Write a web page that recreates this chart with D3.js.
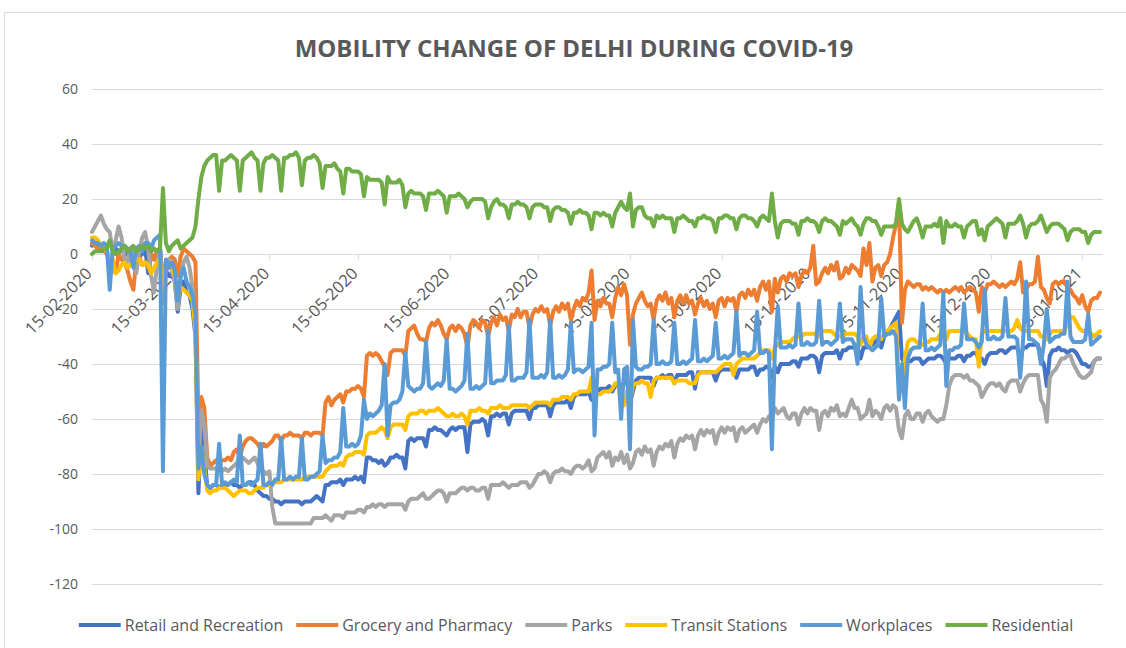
<!DOCTYPE html>
<html>
<head>
<meta charset="utf-8">
<script src="https://cdn.jsdelivr.net/npm/d3@7"></script>
<style>
  body { margin: 0; background: #fff; }
  text { font-family: "Open Sans", sans-serif; fill: #595959; }
</style>
</head>
<body>
<svg id="chart" width="1126" height="648"></svg>
<script>
// daily values from 15-02-2020, one row = 4 weeks (Sat..Fri)
const firstDay = "15-02-2020";

const retail = [
  3,4,2,2,1,1,-3, 0,2,1,1,2,0,-2, -4,0,-1,0,2,-7,0, -2,1,2,-10,-6,-8,-7,
  -10,-21,-12,-10,-14,-15,-20, -30,-87,-62,-72,-85,-85,-84, -84,-85,-84,-84,-84,-83,-84, -84,-85,-84,-84,-83,-83,-84,
  -86,-87,-88,-88,-89,-89,-90, -90,-91,-90,-90,-90,-90,-90, -90,-91,-90,-90,-90,-89,-88, -89,-90,-84,-84,-83,-83,-83,
  -82,-84,-82,-82,-82,-81,-82, -81,-83,-74,-74,-75,-75,-76, -75,-77,-76,-74,-74,-73,-74, -74,-78,-68,-67,-68,-67,-67,
  -67,-70,-64,-64,-63,-64,-64, -65,-66,-64,-63,-64,-63,-63, -63,-72,-62,-61,-61,-61,-60, -61,-66,-59,-59,-58,-59,-58,
  -58,-62,-58,-57,-57,-57,-57, -57,-60,-56,-56,-55,-55,-55, -55,-59,-55,-54,-54,-54,-54, -53,-56,-52,-51,-51,-51,-51,
  -50,-53,-52,-50,-49,-49,-49, -48,-50,-48,-47,-48,-47,-46, -54,-50,-46,-45,-45,-45,-45, -45,-48,-45,-45,-44,-45,-44,
  -44,-47,-44,-44,-44,-44,-43, -43,-49,-43,-43,-43,-43,-43, -43,-46,-43,-42,-42,-42,-42, -42,-45,-42,-42,-42,-42,-41,
  -41,-44,-42,-42,-41,-41,-45, -41,-43,-40,-40,-40,-40,-39, -39,-41,-38,-38,-38,-37,-37, -38,-43,-37,-36,-36,-36,-36,
  -35,-38,-35,-35,-34,-34,-34, -34,-38,-34,-34,-33,-33,-32, -31,-34,-30,-29,-27,-25,-23, -21,-38,-40,-39,-39,-38,-38,
  -38,-40,-39,-38,-38,-38,-37, -37,-38,-40,-38,-38,-38,-37, -37,-39,-37,-37,-36,-36,-38, -38,-40,-37,-36,-36,-36,-35,
  -35,-36,-35,-34,-34,-34,-38, -34,-34,-33,-33,-33,-33,-38, -40,-48,-37,-35,-35,-34,-35, -35,-36,-35,-35,-36,-38,-40,
  -40,-41,-41,-39,-38,-38
];

const grocery = [
  4,3,2,1,2,0,-3, -2,-7,0,-2,-3,-6,-10, -13,-2,-1,-4,-3,-5,0, -2,1,2,-14,-3,-2,-1,
  -2,-8,-1,2,1,0,-1, -3,-60,-52,-56,-74,-77,-76, -75,-76,-75,-75,-74,-75,-72, -71,-74,-70,-68,-67,-67,-68,
  -69,-71,-69,-70,-69,-68,-66, -66,-68,-66,-66,-65,-66,-66, -66,-67,-65,-65,-66,-65,-65, -65,-66,-54,-52,-55,-53,-52,
  -51,-54,-50,-50,-49,-49,-48, -49,-52,-37,-36,-37,-36,-37, -39,-41,-44,-36,-35,-35,-35, -35,-37,-28,-27,-26,-29,-31,
  -31,-32,-27,-25,-26,-24,-26, -29,-31,-27,-26,-28,-26,-27, -29,-34,-26,-24,-25,-27,-24, -25,-30,-25,-23,-26,-22,-24,
  -23,-28,-22,-23,-20,-23,-21, -21,-27,-22,-20,-21,-19,-21, -20,-26,-21,-19,-21,-18,-20, -18,-24,-20,-17,-19,-16,-17,
  -14,-6,-24,-17,-19,-16,-18, -18,-23,-16,-12,-15,-11,-15, -33,-22,-18,-16,-14,-17,-19, -18,-24,-17,-15,-17,-14,-18,
  -16,-23,-17,-15,-18,-15,-18, -17,-22,-18,-16,-19,-17,-20, -18,-23,-17,-16,-19,-16,-17, -16,-21,-15,-14,-16,-13,-15,
  -13,-17,-12,-10,-13,-10,-21, -9,-14,-9,-8,-10,-7,-8, -7,-12,-8,-6,-7,-5,3, -11,-10,-7,-5,-7,-4,-6,
  -3,-9,-8,-5,-7,-4,-5, -6,-8,2,-4,4,-10,-5, -4,-8,-4,-3,0,6,11, 19,-25,-13,-10,-11,-12,-11,
  -11,-13,-12,-13,-12,-13,-14, -13,-14,-13,-14,-13,-12,-13, -12,-14,-13,-12,-13,-14,-21, -12,-14,-11,-11,-10,-11,-12,
  -11,-12,-11,-10,-11,-9,-3, -14,-13,-11,-11,-10,-1,-12, -13,-16,-18,-11,-10,-11,-10, -10,-12,-13,-15,-16,-18,-15,
  -19,-21,-17,-16,-16,-14
];

const parks = [
  8,10,12,14,11,9,8, 1,5,10,6,-2,-3,2, 2,-7,1,6,8,2,-8, -14,-4,2,-18,-5,-2,-6,
  -10,-20,-8,-3,-1,-5,-12, -25,-76,-57,-62,-77,-78,-78, -78,-78,-79,-78,-79,-78,-77, -76,-74,-74,-75,-76,-75,-74,
  -76,-79,-79,-80,-79,-92,-98, -98,-98,-98,-98,-98,-98,-98, -98,-98,-98,-98,-98,-96,-96, -96,-96,-95,-96,-97,-95,-95,
  -95,-96,-94,-94,-94,-94,-93, -93,-94,-92,-92,-91,-92,-91, -91,-92,-91,-91,-91,-91,-91, -91,-93,-90,-89,-89,-89,-88,
  -87,-89,-89,-88,-87,-86,-86, -87,-90,-87,-87,-87,-86,-85, -85,-86,-85,-85,-86,-86,-85, -85,-89,-84,-84,-84,-84,-83,
  -84,-85,-84,-84,-84,-83,-83, -83,-85,-84,-82,-80,-80,-79, -80,-83,-80,-79,-79,-78,-79, -79,-80,-78,-77,-77,-78,-77,
  -75,-79,-78,-74,-73,-72,-74, -72,-77,-74,-75,-72,-76,-73, -78,-76,-72,-71,-73,-70,-72, -71,-77,-72,-70,-71,-69,-70,
  -68,-74,-69,-67,-68,-66,-67, -66,-71,-66,-64,-66,-64,-65, -64,-69,-65,-63,-65,-63,-64, -63,-68,-64,-63,-65,-64,-63,
  -62,-65,-62,-60,-61,-59,-59, -56,-58,-57,-56,-59,-60,-58, -58,-62,-58,-56,-58,-56,-57, -57,-64,-58,-57,-59,-56,-57,
  -55,-59,-58,-59,-56,-53,-56, -56,-60,-59,-58,-53,-59,-57, -58,-60,-56,-55,-57,-55,-56, -64,-67,-59,-57,-60,-60,-58,
  -58,-61,-58,-57,-59,-60,-61, -60,-60,-55,-48,-45,-44,-44, -44,-45,-44,-46,-46,-47,-48, -52,-50,-48,-47,-47,-48,-47,
  -49,-50,-47,-46,-46,-46,-50, -47,-45,-44,-44,-44,-44,-53, -55,-61,-45,-43,-42,-40,-38, -38,-37,-37,-40,-42,-44,-45,
  -45,-44,-43,-39,-38,-38
];

const transit = [
  6,6,5,3,2,1,-1, -2,-7,-6,-4,-3,-5,-4, -3,-2,-2,-4,-3,-4,-7, -5,-3,-2,-12,-4,-5,-5,
  -8,-16,-12,-13,-14,-15,-17, -28,-82,-70,-78,-86,-87,-86, -86,-85,-85,-85,-86,-87,-88, -87,-86,-86,-86,-87,-87,-86,
  -85,-85,-85,-84,-84,-83,-83, -83,-83,-82,-82,-82,-82,-82, -82,-82,-81,-81,-81,-81,-81, -81,-81,-79,-78,-77,-77,-77,
  -76,-77,-74,-73,-73,-72,-72, -72,-73,-66,-65,-65,-65,-64, -63,-64,-67,-63,-62,-62,-62, -62,-64,-59,-58,-58,-58,-57,
  -57,-58,-57,-57,-57,-56,-57, -58,-59,-59,-58,-59,-59,-58, -59,-62,-57,-57,-57,-56,-57, -57,-58,-56,-56,-56,-55,-56,
  -56,-56,-55,-55,-55,-55,-55, -55,-56,-55,-54,-54,-54,-54, -54,-55,-53,-53,-53,-52,-52, -52,-53,-51,-51,-50,-50,-50,
  -50,-45,-52,-51,-51,-50,-50, -50,-49,-47,-47,-55,-55,-50, -54,-48,-47,-47,-46,-47,-47, -52,-46,-45,-45,-45,-45,-45,
  -45,-47,-46,-46,-46,-46,-47, -47,-47,-44,-43,-43,-43,-43, -43,-43,-42,-41,-40,-40,-40, -44,-40,-39,-38,-38,-38,-38,
  -38,-37,-36,-35,-35,-35,-38, -34,-33,-32,-32,-32,-32,-31, -30,-30,-30,-29,-29,-29,-29, -29,-30,-28,-28,-28,-28,-29,
  -30,-30,-30,-29,-29,-29,-29, -30,-33,-30,-30,-34,-31,-30, -30,-31,-29,-28,-27,-26,-25, -48,-50,-38,-32,-31,-31,-32,
  -33,-33,-32,-32,-31,-31,-31, -29,-29,-31,-28,-28,-28,-28, -28,-28,-29,-30,-31,-31,-41, -29,-28,-28,-28,-28,-28,-28,
  -28,-28,-28,-28,-27,-24,-27, -28,-28,-28,-28,-28,-28,-30, -30,-31,-29,-28,-28,-28,-28, -28,-25,-23,-23,-25,-27,-28,
  -28,-29,-29,-30,-29,-28
];

const workplaces = [
  5,4,4,3,4,3,-13, 2,3,4,3,3,2,1, -5,2,3,1,4,4,2, 5,6,7,-79,-2,-5,-3,
  -6,-17,-8,-5,-10,-12,-15, -22,-78,-70,-80,-84,-85,-84, -84,-69,-84,-83,-84,-83,-82, -83,-66,-84,-84,-83,-84,-83,
  -82,-69,-84,-84,-83,-84,-82, -82,-67,-82,-82,-81,-82,-81, -81,-67,-82,-82,-81,-81,-80, -79,-66,-76,-75,-75,-74,-74,
  -72,-56,-70,-70,-69,-70,-69, -66,-53,-60,-58,-59,-58,-57, -55,-40,-66,-55,-54,-54,-53, -50,-36,-48,-49,-50,-49,-49,
  -47,-32,-48,-49,-48,-47,-48, -46,-31,-49,-49,-50,-49,-48, -46,-29,-49,-49,-48,-49,-48, -47,-28,-47,-47,-46,-46,-46,
  -44,-26,-46,-46,-45,-45,-45, -43,-24,-45,-45,-45,-44,-45, -43,-24,-45,-45,-44,-45,-44, -42,-25,-43,-42,-42,-43,-42,
  -41,-25,-66,-42,-42,-41,-41, -40,-25,-43,-42,-60,-42,-41, -71,-24,-41,-42,-42,-41,-41, -40,-24,-40,-40,-39,-40,-40,
  -39,-25,-40,-40,-39,-40,-39, -38,-24,-39,-39,-38,-39,-38, -37,-25,-38,-38,-37,-38,-37, -36,-21,-37,-36,-36,-37,-36,
  -35,-21,-36,-36,-35,-36,-71, -36,-19,-34,-34,-34,-33,-34, -33,-18,-33,-33,-32,-33,-33, -32,-17,-33,-32,-32,-33,-32,
  -31,-18,-32,-31,-31,-31,-33, -40,-12,-30,-33,-34,-35,-34, -33,-16,-30,-29,-29,-28,-30, -53,-40,-56,-38,-35,-34,-34,
  -34,-18,-35,-35,-34,-35,-34, -33,-14,-48,-35,-35,-34,-34, -33,-18,-31,-31,-31,-32,-34, -32,-13,-31,-31,-30,-31,-31,
  -30,-16,-30,-30,-30,-31,-45, -31,-10,-31,-31,-32,-33,-40, -33,-20,-32,-31,-30,-30,-29, -29,-10,-30,-32,-32,-32,-32,
  -31,-22,-33,-32,-31,-30
];

const residential = [
  0,1,1,1,2,2,5, 1,0,1,2,3,1,2, 3,1,2,3,2,3,1, 2,1,2,24,4,1,3,
  4,5,2,3,4,5,6, 10,20,28,32,34,35,36, 36,23,34,34,35,36,35, 34,23,34,35,36,37,35,
  34,23,33,35,35,36,35, 34,23,35,35,36,36,37, 35,25,34,35,35,36,35, 33,24,32,32,32,33,31,
  30,22,31,31,30,30,30, 29,21,28,27,27,27,27, 26,18,28,26,26,26,27, 25,17,22,23,22,22,22,
  21,16,22,22,22,23,22, 21,15,21,21,21,22,21, 20,17,19,20,20,20,20, 19,13,17,19,20,18,18,
  17,13,18,18,19,18,18, 17,13,17,18,18,18,17, 17,12,16,17,17,16,16, 15,11,15,15,16,15,15,
  14,9,15,15,14,15,14, 14,10,15,17,19,17,16, 22,10,16,17,17,14,13, 13,10,14,13,14,13,13,
  13,8,13,13,14,13,12, 12,10,13,13,14,13,13, 12,8,13,13,14,14,13, 13,9,13,14,14,13,13,
  12,10,13,14,13,12,22, 12,6,11,12,12,12,11, 11,7,12,12,13,12,12, 11,8,12,13,12,12,11,
  10,7,12,11,12,13,11, 10,7,11,13,13,12,12, 10,7,10,10,10,10,11, 20,11,9,8,10,12,13,
  10,6,10,10,10,11,10, 13,4,12,10,10,11,10, 10,6,10,11,12,12,7, 9,5,10,11,12,13,12,
  11,6,11,11,11,12,14, 11,6,10,11,11,12,14, 11,8,10,11,11,11,10, 9,5,8,9,9,9,8,
  8,4,7,8,8,8
];

const seriesNames = ["Retail and Recreation", "Grocery and Pharmacy", "Parks", "Transit Stations", "Workplaces", "Residential"];
const seriesValues = [retail, grocery, parks, transit, workplaces, residential];
const seriesColors = ["#4472C4", "#ED7D31", "#A5A5A5", "#FFC000", "#5B9BD5", "#70AD47"];

const yTicks = [60, 40, 20, 0, -20, -40, -60, -80, -100, -120];
const xTickLabels = ["15-02-2020", "15-03-2020", "15-04-2020", "15-05-2020", "15-06-2020", "15-07-2020",
  "15-08-2020", "15-09-2020", "15-10-2020", "15-11-2020", "15-12-2020", "15-01-2021"];

const title = "MOBILITY CHANGE OF DELHI DURING COVID-19";

const parseDay = d3.timeParse("%d-%m-%Y");
const start = parseDay(firstDay);
const days = retail.map((v, i) => d3.timeDay.offset(start, i));

const svg = d3.select("#chart");

// chart border
svg.append("rect")
  .attr("x", 4.5).attr("y", 12.5)
  .attr("width", 1140).attr("height", 650)
  .attr("fill", "none").attr("stroke", "#D9D9D9");

const x = d3.scaleTime()
  .domain([days[0], days[days.length - 1]])
  .range([92, 1100]);
const y = d3.scaleLinear()
  .domain([-120, 60])
  .range([584, 89]);

// gridlines
svg.append("g").selectAll("line").data(yTicks).join("line")
  .attr("x1", 92).attr("x2", 1103)
  .attr("y1", d => Math.round(y(d)) + 0.5).attr("y2", d => Math.round(y(d)) + 0.5)
  .attr("stroke", "#D9D9D9").attr("stroke-width", 1);

svg.append("g").selectAll("text").data(yTicks).join("text")
  .attr("x", 78).attr("y", d => y(d))
  .attr("dy", "0.35em")
  .attr("text-anchor", "end")
  .style("font-size", "14px")
  .text(d => d);

// x axis at zero
const y0 = Math.round(y(0)) + 0.5;
const tickDates = xTickLabels.map(parseDay);
svg.append("g").selectAll("line").data(tickDates).join("line")
  .attr("x1", d => Math.round(x(d)) + 0.5).attr("x2", d => Math.round(x(d)) + 0.5)
  .attr("y1", y0).attr("y2", y0 + 5)
  .attr("stroke", "#D9D9D9");

svg.append("g").selectAll("text").data(tickDates).join("text")
  .attr("transform", d => `translate(${x(d) + 1},${y0 + 20}) rotate(-45)`)
  .attr("text-anchor", "end")
  .style("font-size", "16.5px")
  .text((d, i) => xTickLabels[i]);

// lines
const line = d3.line()
  .x((d, i) => x(days[i]))
  .y(d => y(d));

svg.append("g").selectAll("path").data(seriesValues).join("path")
  .attr("d", d => line(d))
  .attr("fill", "none")
  .attr("stroke", (d, i) => seriesColors[i])
  .attr("stroke-width", 4)
  .attr("stroke-linejoin", "round")
  .attr("stroke-linecap", "round");

// title
svg.append("text")
  .attr("x", 574).attr("y", 57)
  .attr("text-anchor", "middle")
  .style("font-size", "24px")
  .style("font-weight", "bold")
  .text(title);

// legend
const legend = svg.append("g");
let lx = 0;
seriesNames.forEach((name, i) => {
  const item = legend.append("g").attr("transform", `translate(${lx},0)`);
  item.append("line")
    .attr("x1", 0).attr("x2", 42)
    .attr("y1", 625).attr("y2", 625)
    .attr("stroke", seriesColors[i])
    .attr("stroke-width", 4);
  const t = item.append("text")
    .attr("x", 46).attr("y", 630.5)
    .style("font-size", "16px")
    .text(name);
  lx += 46 + t.node().getComputedTextLength() + 13;
});
const legendWidth = lx - 13;
legend.attr("transform", `translate(${576 - legendWidth / 2},0)`);
</script>
</body>
</html>
